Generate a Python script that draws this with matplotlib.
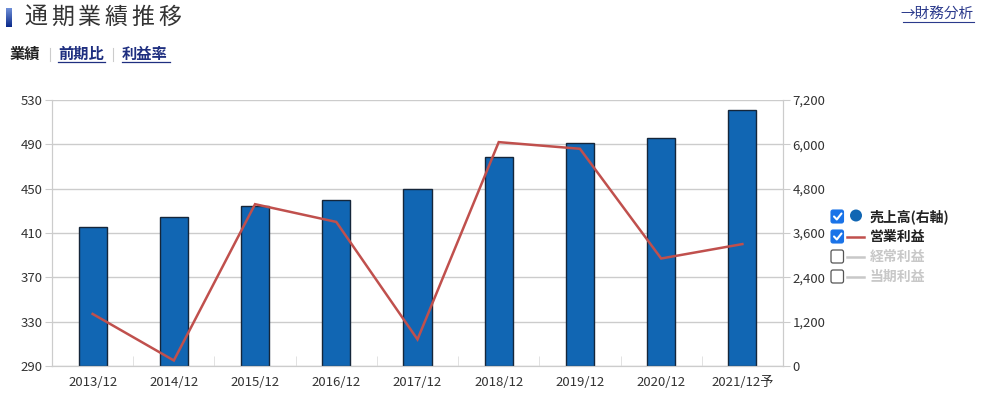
import numpy as np
import matplotlib
matplotlib.use("Agg")
import matplotlib.pyplot as plt
from matplotlib.patches import FancyBboxPatch, Circle

plt.rcParams['font.family'] = ['Noto Sans CJK JP', 'DejaVu Sans']

# data
periods = ['2013/12', '2014/12', '2015/12', '2016/12', '2017/12',
           '2018/12', '2019/12', '2020/12', '2021/12予']
sales = [3771, 4041, 4339, 4485, 4783, 5649, 6028, 6180, 6929]        # right axis
op_profit = [337, 295, 436, 420, 314, 492, 486, 387, 400]             # left axis
left_ticks = [290, 330, 370, 410, 450, 490, 530]
right_ticks = [0, 1200, 2400, 3600, 4800, 6000, 7200]
legend_items = ['売上高(右軸)', '営業利益', '経常利益', '当期利益']
title = '通期業績推移'

W, H = 982, 398
fig = plt.figure(figsize=(W / 100, H / 100), dpi=100)

BAR = '#1166b3'
RED = '#c0504d'
GRID = '#cccccc'
TXT = '#333333'

x = np.arange(len(periods))

# right axis (sales bars) sits below; left axis (operating profit line) on top
ax = fig.add_axes([52 / W, 1 - 366 / H, 731 / W, 266 / H])
ax2 = ax.twinx()
ax.set_zorder(ax2.get_zorder() + 1)
ax.patch.set_visible(False)

ax2.bar(x, sales, width=0.345, color=BAR, edgecolor='#15263a', linewidth=1, zorder=3)
ax2.set_ylim(0, 7200)
ax2.set_yticks(right_ticks)
ax2.set_yticklabels([f'{v:,}' for v in right_ticks])
ax2.grid(axis='y', color=GRID, linewidth=1, zorder=0)
ax2.set_axisbelow(True)

ax.plot(x, op_profit, color=RED, linewidth=1.8, solid_joinstyle='miter')
ax.set_ylim(290, 530)
ax.set_yticks(left_ticks)
ax.set_xlim(-0.5, len(periods) - 0.5)
ax.set_xticks(x)
ax.set_xticklabels(periods)
ax.set_xticks(x[:-1] + 0.5, minor=True)

for a in (ax, ax2):
    for s in a.spines.values():
        s.set_color(GRID)
    a.spines['top'].set_visible(False)
    a.tick_params(axis='y', length=5, color=GRID, labelsize=9.5, labelcolor=TXT, pad=2)
ax.tick_params(axis='x', which='major', length=0, labelsize=9.5, labelcolor=TXT, pad=7)
ax.tick_params(axis='x', which='minor', length=7, direction='in', color='#dddddd')
ax2.tick_params(axis='x', length=0)

# overlay in pixel coordinates for header and legend
ov = fig.add_axes([0, 0, 1, 1], zorder=10)
ov.set_xlim(0, W)
ov.set_ylim(H, 0)
ov.axis('off')

grad = np.linspace(0, 1, 50).reshape(-1, 1)
cmap = matplotlib.colors.LinearSegmentedColormap.from_list('t', ['#6f8fd8', '#0a2a8a'])
ov.imshow(grad, cmap=cmap, extent=(6, 12, 27, 8), aspect='auto')
for i, ch in enumerate(title):
    ov.text(24 + 26.8 * i, 17, ch, fontsize=16.5, color=TXT, va='center', ha='left')

ov.text(974, 14, '→財務分析', fontsize=10.5, color='#2b3a8c', va='center', ha='right')
ov.plot([903, 974], [22, 22], color='#2b3a8c', linewidth=0.8)

ov.text(10, 54, '業績', fontsize=11, color='#222222', fontweight='bold', va='center')
ov.plot([50, 50], [48, 61], color='#cccccc', linewidth=0.8)
ov.text(58, 54, '前期比', fontsize=11, color='#1f2f80', fontweight='bold', va='center')
ov.plot([58, 105], [62, 62], color='#1f2f80', linewidth=0.9)
ov.plot([113, 113], [48, 61], color='#cccccc', linewidth=0.8)
ov.text(122, 54, '利益率', fontsize=11, color='#1f2f80', fontweight='bold', va='center')
ov.plot([122, 170], [62, 62], color='#1f2f80', linewidth=0.9)

# legend with checkboxes
checked = [True, True, False, False]
colors = ['#222222', '#222222', '#c8c8c8', '#c8c8c8']
for i, lab in enumerate(legend_items):
    yc = 216.5 + 20 * i
    if checked[i]:
        ov.add_patch(FancyBboxPatch((831, yc - 6.5), 12.5, 13, boxstyle='round,pad=0,rounding_size=2',
                                    facecolor='#1a73e8', edgecolor='#1a73e8', linewidth=0.8))
        ov.plot([834, 836.8, 841.5], [yc, yc + 3, yc - 3], color='white', linewidth=1.5,
                solid_capstyle='round', solid_joinstyle='round')
    else:
        ov.add_patch(FancyBboxPatch((831, yc - 6.5), 12.5, 13, boxstyle='round,pad=0,rounding_size=2',
                                    facecolor='white', edgecolor='#555555', linewidth=0.9))
    if i == 0:
        ov.add_patch(Circle((856, yc - 1), 6, facecolor=BAR, edgecolor='none'))
    else:
        ov.plot([847, 864], [yc, yc], color=RED if i == 1 else '#c8c8c8', linewidth=1.8)
    ov.text(870, yc, lab, fontsize=10, color=colors[i], fontweight='bold', va='center', ha='left')

fig.savefig('out.png', dpi=100)
